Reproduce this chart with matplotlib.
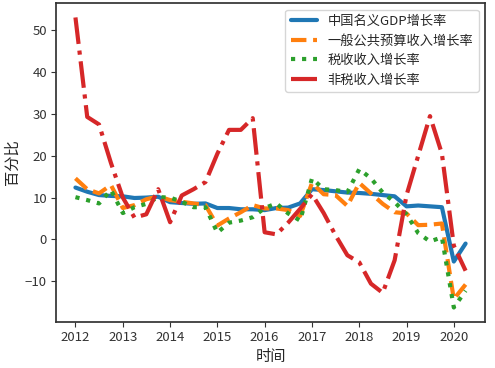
import matplotlib
matplotlib.use("Agg")
import matplotlib.pyplot as plt
import matplotlib.dates as mdates
import pandas as pd
import seaborn as sns

quarters = ['2012Q1', '2012Q2', '2012Q3', '2012Q4',
            '2013Q1', '2013Q2', '2013Q3', '2013Q4',
            '2014Q1', '2014Q2', '2014Q3', '2014Q4',
            '2015Q1', '2015Q2', '2015Q3', '2015Q4',
            '2016Q1', '2016Q2', '2016Q3', '2016Q4',
            '2017Q1', '2017Q2', '2017Q3', '2017Q4',
            '2018Q1', '2018Q2', '2018Q3', '2018Q4',
            '2019Q1', '2019Q2', '2019Q3', '2019Q4',
            '2020Q1', '2020Q2']

gdp = [12.4, 11.4, 10.6, 10.4,
       10.3, 9.9, 10.0, 10.2,
       8.9, 8.7, 8.5, 8.6,
       7.5, 7.5, 7.2, 7.2,
       7.0, 7.5, 7.6, 8.6,
       12.0, 11.8, 11.5, 11.2,
       11.1, 10.9, 10.6, 10.3,
       7.9, 8.1, 7.9, 7.7,
       -5.3, -1.0]

budget = [14.6, 12.0, 11.0, 13.0,
          7.5, 8.2, 9.6, 10.3,
          9.4, 9.0, 8.6, 8.2,
          3.3, 5.0, 6.5, 8.2,
          7.4, 7.4, 7.0, 5.6,
          13.5, 10.8, 10.6, 8.0,
          13.5, 11.0, 8.5, 6.5,
          6.2, 3.4, 3.5, 3.8,
          -14.3, -10.8]

tax = [10.1, 9.4, 8.6, 11.8,
       6.3, 7.7, 8.5, 10.1,
       10.0, 9.0, 7.7, 7.7,
       1.6, 4.0, 4.5, 5.3,
       7.5, 8.6, 6.2, 4.5,
       14.6, 12.0, 11.8, 11.3,
       16.8, 14.6, 11.2, 8.9,
       6.0, 1.5, -0.5, 0.5,
       -16.3, -12.3]

nontax = [53.1, 29.3, 27.5, 18.3,
          10.0, 5.2, 6.0, 12.0,
          4.1, 10.5, 12.0, 13.7,
          20.5, 26.2, 26.2, 29.0,
          1.7, 1.2, 4.0, 7.3,
          10.8, 6.3, 1.0, -3.8,
          -5.5, -10.6, -12.8, -5.0,
          10.6, 20.0, 29.5, 20.5,
          -1.5, -7.5]

labels = ['中国名义GDP增长率', '一般公共预算收入增长率', '税收收入增长率', '非税收入增长率']

sns.set_style('ticks')
plt.rcParams['font.family'] = ['Noto Sans CJK SC', 'DejaVu Sans']
plt.rcParams['axes.unicode_minus'] = True

dates = pd.PeriodIndex(quarters, freq='Q').to_timestamp()

fig = plt.figure(figsize=(4.95, 3.68), dpi=100)
ax = fig.add_axes([0.113, 0.125, 0.867, 0.867])

colors = ['#1f77b4', '#ff7f0e', '#2ca02c', '#d62728']
styles = ['-', '--', ':', '-.']
for series, lab, c, ls in zip([gdp, budget, tax, nontax], labels, colors, styles):
    ax.plot(dates, series, color=c, linestyle=ls, linewidth=3, label=lab)

ax.xaxis.set_major_locator(mdates.YearLocator())
ax.xaxis.set_major_formatter(mdates.DateFormatter('%Y'))
ax.set_yticks([-10, 0, 10, 20, 30, 40, 50])
ax.tick_params(labelsize=9.5, colors='#333333', pad=3)
ax.set_xlabel('时间', fontsize=11, labelpad=3)
ax.set_ylabel('百分比', fontsize=11, labelpad=3)
for s in ax.spines.values():
    s.set_color('#333333')
    s.set_linewidth(1.25)
ax.legend(loc='upper right', fontsize=9.5, labelspacing=0.5,
          handlelength=2.0, borderpad=0.4)

fig.savefig('out.png', dpi=100)
